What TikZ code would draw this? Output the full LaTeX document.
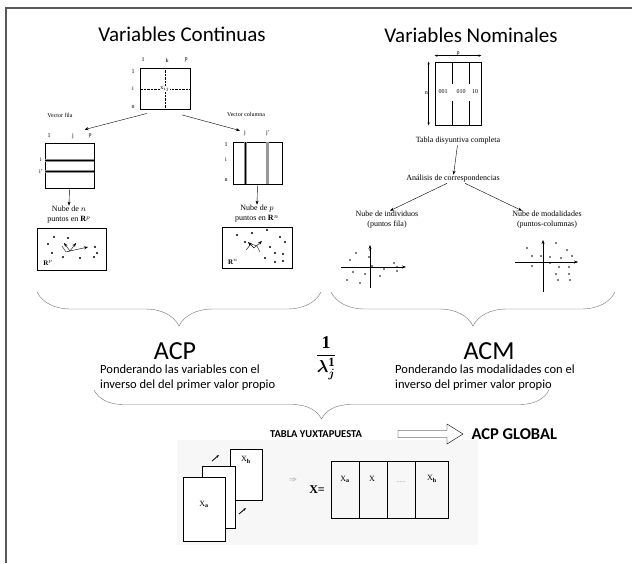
\documentclass[tikz,border=0pt]{standalone}
\usepackage{fontspec}
\setmainfont{Liberation Serif}
\newfontfamily\calibri{Carlito}
\usepackage{amsmath}
\usepackage{bm}
\usetikzlibrary{decorations.pathreplacing, positioning, arrows.meta}

\tikzset{
  titulo/.style={font=\calibri\fontsize{21}{23}\selectfont, inner sep=0pt},
  metodo/.style={font=\calibri\fontsize{26}{28}\selectfont, inner sep=0pt},
  nota/.style={font=\calibri\fontsize{12.5}{15}\selectfont, align=left, inner sep=0pt},
  chico/.style={font=\fontsize{6}{7}\selectfont, inner sep=0.5pt},
  texto/.style={font=\fontsize{8}{10}\selectfont, align=center, inner sep=0.5pt},
  caja/.style={draw, thick, inner sep=0pt},
  llave/.style={decorate, decoration={brace, amplitude=34pt, mirror}, black!55},
  flecha/.style={-{Stealth[length=4pt,width=3pt]}, thin},
}

\begin{document}
\begin{tikzpicture}[x=1pt, y=-1pt]
  \useasboundingbox (0,0) rectangle (632,563);
  % marco
  \draw[line width=1.6pt, black!65] (6,563) -- (6,8) -- (632,8);

  % titulos
  \node[titulo] (tcont) at (182,34) {Variables Continuas};
  \node[titulo] (tnom) at (471,35) {Variables Nominales};

  % matriz de variables continuas
  \node[caja, minimum width=50pt, minimum height=41pt] (mcont) at (165,89) {};
  \draw[densely dotted] (mcont.north) -- (mcont.south);
  \draw[densely dotted] (mcont.west) -- (mcont.east);
  \node[chico, fill=white] (xij) at (mcont.center) {x$_{ij}$};
  \node[chico] (c1) at (143,60) {1};
  \node[chico] (ck) at (167,60) {k};
  \node[chico] (cp) at (186,60) {p};
  \node[chico] (f1) at (133,72) {1};
  \node[chico] (fi) at (133,89) {i};
  \node[chico] (fn) at (133,107) {n};

  % vector fila
  \node[chico] (vfila) at (60,115) {Vector fila};
  \node[caja, minimum width=49pt, minimum height=45pt] (tfila) at (69.5,165.5) {};
  \foreach \s in {5.5,-5.5}{
    \draw[line width=3pt, black!45] ([yshift=\s pt]tfila.west) -- ([yshift=\s pt]tfila.east);
    \draw[line width=0.8pt] ([yshift=\s pt]tfila.west) -- ([yshift=\s pt]tfila.east);
  }
  \node[chico] at (49,136) {1};
  \node[chico] at (73,136) {j};
  \node[chico] at (90,136) {p};
  \node[chico] at (41,160) {i};
  \node[chico] at (41,171) {i'};
  \draw[flecha] ([xshift=-18pt,yshift=-3.5pt]mcont.south) -- ([xshift=15pt,yshift=13pt]tfila.north);

  % vector columna
  \node[chico] (vcol) at (246,114) {Vector columna};
  \node[caja, minimum width=49pt, minimum height=42pt] (tcol) at (257.5,163) {};
  \draw[line width=3pt, black!45] (245,142) -- (245,184);
  \draw[line width=0.8pt] (245,142) -- (245,184);
  \draw[line width=3pt, black!40] (267,142) -- (267,184);
  \node[chico] at (245,133) {j};
  \node[chico] at (268,133) {j'};
  \node[chico] at (226,145) {1};
  \node[chico] at (226,160) {i};
  \node[chico] at (226,180) {n};
  \draw[flecha] ([xshift=17pt,yshift=-5pt]mcont.south) -- ([xshift=-17.5pt,yshift=11pt]tcol.north);

  % nubes de puntos
  \node[texto] (nuben) at (69,215) {Nube de $n$\\puntos en $\mathbf{R}^p$};
  \draw[flecha] (tfila.south) -- (nuben.north);
  \node[caja, minimum width=69pt, minimum height=42pt] (nubep) at (71.5,249) {};
  \foreach \p in {(54,237),(68,238),(48,244),(52,253),(95,247),(97,253),(94,257),(80,258),(63,257)}
    \fill \p circle (1.1pt);
  \draw[flecha] (70,251) -- (88,247);
  \draw[flecha] (70,251) -- (64,243);
  \draw[flecha] (70,251) -- (76,243);
  \draw (62,246) -- (66,252) -- (70,251);
  \node[chico, font=\fontsize{7}{8}\selectfont] at (48,263) {$\mathbf{R}^p$};

  \node[texto] (nubep2) at (257,214) {Nube de $p$\\puntos en $\mathbf{R}^n$};
  \draw[flecha] (tcol.south) -- (nubep2.north);
  \node[caja, minimum width=70pt, minimum height=41pt] (nuben2) at (257,247.5) {};
  \foreach \p in {(237,235),(252,233),(267,230),(280,237),(245,242),(285,242),(270,247),(275,253),(283,254),(265,258),(275,262),(283,261)}
    \fill \p circle (1.1pt);
  \draw[flecha] (254,248) -- (262,241);
  \draw[flecha] (254,248) -- (248,242);
  \draw (246,250) -- (251,244) -- (257,246) -- (260,252);
  \node[chico, font=\fontsize{7}{8}\selectfont] at (233,262) {$\mathbf{R}^n$};

  % tabla disyuntiva completa
  \node[caja, minimum width=46pt, minimum height=63pt] (tdisy) at (458,93.5) {};
  \foreach \x in {452,469}{
    \draw[thick] (\x,62) -- (\x,84);
    \draw[thick] (\x,101) -- (\x,125);
  }
  \node[chico] at (443,92) {001};
  \node[chico] at (461,92) {010};
  \node[chico] at (475,92) {10};
  \draw[{Stealth[length=3pt]}-{Stealth[length=3pt]}] ([yshift=6pt]tdisy.north west) -- ([yshift=6pt]tdisy.north east)
    node[midway, above=-1pt, chico] {p};
  \draw[{Stealth[length=3pt]}-{Stealth[length=3pt]}] ([xshift=-6pt]tdisy.north west) -- ([xshift=-6pt]tdisy.south west)
    node[midway, left, chico] {n};

  \node[texto] (tabla) at (458,141) {Tabla disyuntiva completa};
  \node[texto] (anal) at (453,179) {Análisis de correspondencias};
  \draw[flecha] (tabla) -- (anal);
  \node[texto] (indiv) at (387,220) {Nube de individuos\\(puntos fila)};
  \node[texto] (modal) at (547,220) {Nube de modalidades\\(puntos-columnas)};
  \draw[flecha] ([xshift=-6pt]anal.south) -- ([xshift=3pt]indiv.north);
  \draw[flecha] ([xshift=12pt]anal.south) -- ([xshift=-25pt]modal.north);

  % planos factoriales
  \coordinate (oi) at (370,267);
  \draw[flecha] ([xshift=-29pt]oi) -- ([xshift=36pt]oi);
  \draw[flecha] ([yshift=-21pt]oi) -- ([yshift=22pt]oi);
  \foreach \p in {(356,253),(350,260),(369,257),(370,250),(394,263),(397,267),(384,269),(353,272),(365,274),(380,276),(397,271),(372,266),(347,280),(360,283)}
    \fill \p circle (0.9pt);
  \coordinate (om) at (543,262);
  \draw[flecha] ([xshift=-28pt]om) -- ([xshift=35pt]om);
  \draw[flecha] ([yshift=-30pt]om) -- ([yshift=22pt]om);
  \foreach \p in {(527,248),(556,243),(567,250),(532,256),(541,256),(550,257),(561,258),(572,256),(532,266),(550,263),(559,267),(569,267),(556,274),(569,274),(558,280),(570,280)}
    \fill \p circle (0.9pt);

  % llaves
  \draw[llave] (37,292) -- (321,292);
  \draw[llave] (331,292) -- (615,292);
  \node[metodo] (acp) at (175,351) {ACP};
  \node[nota, anchor=north west] (pondv) at (100,365) {Ponderando las variables con el\\inverso del del primer valor propio};
  \node[metodo] (acm) at (489,351) {ACM};
  \node[nota, anchor=north west] (pondm) at (395,365) {Ponderando las modalidades con el\\inverso del primer valor propio};
  \node[font=\fontsize{18}{20}\selectfont] (lam) at (326,358) {$\dfrac{\mathbf{1}}{\bm{\lambda}_{\bm{j}}^{\mathbf{1}}}$};
  \draw[decorate, decoration={brace, amplitude=29pt, mirror}, black!55] (94,390) -- (549,390);

  % tabla yuxtapuesta
  \fill[black!3] (177,440) rectangle (478,545);
  \node[font=\calibri\bfseries\fontsize{10.5}{12}\selectfont] (yuxt) at (316,434) {TABLA YUXTAPUESTA};
  \node[font=\calibri\bfseries\fontsize{16.5}{18}\selectfont, anchor=west] (glob) at (468,434) {ACP GLOBAL};
  \draw[thin] (398,430.5) -- (447,430.5) -- (447,424) -- (463,434) -- (447,444) -- (447,437.5) -- (398,437.5) -- cycle;

  \node[caja, fill=white, minimum width=32pt, minimum height=51pt] (xh) at (246,474.5) {};
  \node[caja, fill=white, minimum width=33pt, minimum height=62pt] (xm) at (218.5,497) {};
  \node[caja, fill=white, minimum width=42pt, minimum height=64pt] (xa) at (204,509) {};
  \node[chico, font=\fontsize{8}{9}\selectfont] at (204,504) {X$_\mathbf{a}$};
  \node[chico, font=\fontsize{8}{9}\selectfont] at (246,460) {X$_\mathbf{h}$};
  \draw[-{Stealth[length=3pt]}, thick] (212,461) -- (219,455);
  \draw[-{Stealth[length=3pt]}, thick] (239,514) -- (246,508);
  \node[black!50] (impl) at (293,480) {\scriptsize$\Rightarrow$};
  \node[font=\bfseries\fontsize{12}{14}\selectfont] (xeq) at (317,490) {X=};
  \node[caja, minimum width=117pt, minimum height=57pt] (xglob) at (389.5,489.5) {};
  \foreach \x in {359,387,415}
    \draw (\x,461) -- (\x,518);
  \node[chico, font=\fontsize{8}{9}\selectfont] at (345,479) {X$_\mathbf{a}$};
  \node[chico, font=\fontsize{8}{9}\selectfont] at (372,479) {X};
  \node[chico, black!50] at (401,482) {......};
  \node[chico, font=\fontsize{8}{9}\selectfont] at (432,479) {X$_\mathbf{h}$};
\end{tikzpicture}
\end{document}
